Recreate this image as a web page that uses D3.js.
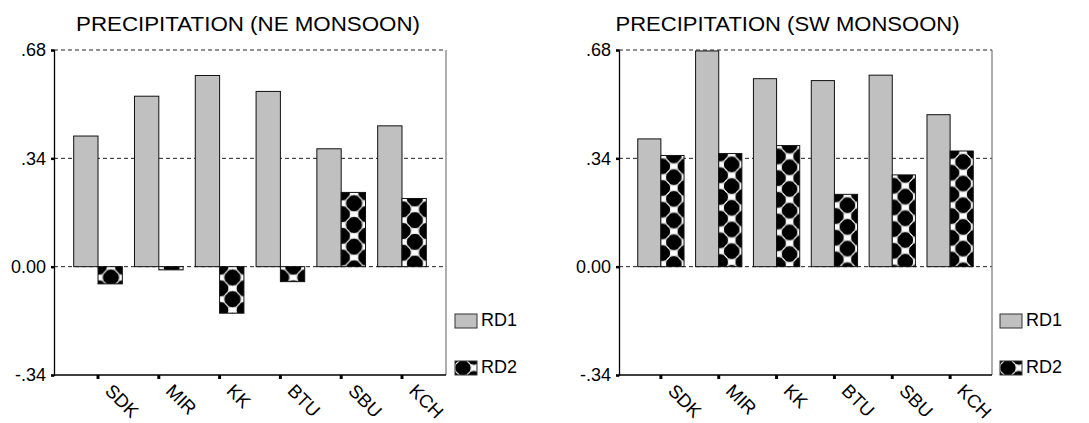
<!DOCTYPE html>
<html>
<head>
<meta charset="utf-8">
<script src="https://cdn.jsdelivr.net/npm/d3@7/dist/d3.min.js"></script>
<style>
  html, body { margin: 0; padding: 0; background: #fff; }
  svg { display: block; }
  text { font-family: "Liberation Sans", Arial, sans-serif; fill: #000; }
</style>
</head>
<body>
<svg id="chart" width="1089" height="423"></svg>
<script>
// ---- data ----
const categories = ["SDK", "MIR", "KK", "BTU", "SBU", "KCH"];
const seriesNames = ["RD1", "RD2"];
const neRD1 = [0.41, 0.535, 0.60, 0.55, 0.37, 0.442];
const neRD2 = [-0.054, -0.010, -0.146, -0.047, 0.233, 0.214];
const swRD1 = [0.401, 0.677, 0.59, 0.584, 0.601, 0.477];
const swRD2 = [0.349, 0.355, 0.38, 0.227, 0.288, 0.363];
const yTickValues = [-0.34, 0, 0.34, 0.68];
const yTickLabels = ["-.34", "0.00", ".34", ".68"];
const titleNE = "PRECIPITATION (NE MONSOON)";
const titleSW = "PRECIPITATION (SW MONSOON)";

const svg = d3.select("#chart");
const defs = svg.append("defs");

function makePattern(pid, px, py, w) {
  const h = 21.7;
  const p = defs.append("pattern").attr("id", pid)
    .attr("patternUnits", "userSpaceOnUse")
    .attr("x", px).attr("y", py).attr("width", w).attr("height", h);
  p.append("rect").attr("width", w).attr("height", h).attr("fill", "#fff");
  const r = Math.sqrt((w / 2) ** 2 + (h / 2) ** 2) / 2 + 0.6;
  [[w / 2, h / 2], [0, 0], [w, 0], [0, h], [w, h]].forEach(([cx, cy]) => {
    p.append("circle").attr("cx", cx).attr("cy", cy).attr("r", r).attr("fill", "#000");
  });
  // thin white ring outlines forming the lattice
  [[w / 2, h / 2], [0, 0], [w, 0], [0, h], [w, h]].forEach(([cx, cy]) => {
    p.append("circle").attr("cx", cx).attr("cy", cy).attr("r", r - 0.2)
      .attr("fill", "none").attr("stroke", "#fff").attr("stroke-width", 0.9);
  });
}

function drawPanel(opt) {
  const { id, left, right, top, bottom, rd1, rd2, title, titleX, legendX } = opt;
  const g = svg.append("g");

  const x = d3.scaleBand().domain(categories).range([left, right])
    .paddingInner(0).paddingOuter(0.224);
  const step = x.step();
  const xs = d3.scaleBand().domain(seriesNames).range([0, step * 0.8]);
  const bw = xs.bandwidth();
  const y = d3.scaleLinear().domain([-0.34, 0.68]).range([bottom, top]);

  // title
  g.append("text").attr("x", titleX).attr("y", 31)
    .attr("text-anchor", "middle").style("font-size", "21px")
    .attr("textLength", 344).attr("lengthAdjust", "spacingAndGlyphs")
    .text(title);

  // dashed gridlines
  g.selectAll("line.grid").data(yTickValues.filter(v => v > -0.34)).enter()
    .append("line").attr("class", "grid")
    .attr("x1", left).attr("x2", right)
    .attr("y1", d => y(d)).attr("y2", d => y(d))
    .attr("stroke", "#222").attr("stroke-width", 1)
    .attr("stroke-dasharray", "4,3");

  // right border
  g.append("line").attr("x1", right).attr("x2", right)
    .attr("y1", top).attr("y2", bottom)
    .attr("stroke", "#777").attr("stroke-width", 1.2);

  const rows = categories.map((c, i) => ({ c, i, v: [rd1[i], rd2[i]] }));

  rows.forEach(r => {
    const bx = x(r.c) + step * 0.1 + xs("RD2");
    makePattern(`${id}-p${r.i}`, bx, y(Math.max(0, r.v[1])), bw);
  });

  const groups = g.selectAll("g.cat").data(rows).enter().append("g")
    .attr("transform", d => `translate(${x(d.c) + step * 0.1},0)`);

  groups.selectAll("rect").data(d => seriesNames.map((s, k) => ({ s, v: d.v[k], i: d.i })))
    .enter().append("rect")
    .attr("x", d => xs(d.s))
    .attr("y", d => y(Math.max(0, d.v)))
    .attr("width", bw)
    .attr("height", d => Math.abs(y(d.v) - y(0)))
    .attr("fill", d => d.s === "RD1" ? "#c0c0c0" : `url(#${id}-p${d.i})`)
    .attr("stroke", "#111").attr("stroke-width", 1);

  // axes
  const yAxis = d3.axisLeft(y).tickValues(yTickValues)
    .tickFormat((d, i) => yTickLabels[i]).tickSize(3).tickPadding(5);
  const ya = g.append("g").attr("transform", `translate(${left},0)`).call(yAxis);
  ya.select(".domain").attr("stroke", "#000").attr("stroke-width", 1.3);
  ya.selectAll(".tick line").attr("stroke", "#000").attr("stroke-width", 2.5);
  ya.selectAll(".tick text").style("font-size", "18px")
    .style("font-family", "Liberation Sans, Arial, sans-serif").attr("fill", "#000");

  const xAxis = d3.axisBottom(x).tickSize(4).tickFormat("");
  const xa = g.append("g").attr("transform", `translate(0,${bottom})`).call(xAxis);
  xa.select(".domain").attr("d", `M${left},0H${right}`).attr("stroke", "#000").attr("stroke-width", 1.3);
  xa.selectAll(".tick line").attr("stroke", "#000").attr("stroke-width", 3);

  g.selectAll("text.cat").data(categories).enter().append("text")
    .attr("class", "cat")
    .attr("transform", d => `translate(${x(d) + step / 2 + 6},${bottom + 17}) rotate(45)`)
    .style("font-size", "18.5px")
    .text(d => d);

  // legend
  const leg = g.append("g");
  const legY = [314, 361];
  seriesNames.forEach((s, k) => {
    if (s === "RD2") makePattern(`${id}-leg`, legendX - 3, legY[k] - 4, 22);
    leg.append("rect").attr("x", legendX).attr("y", legY[k])
      .attr("width", 22).attr("height", 14)
      .attr("fill", s === "RD1" ? "#c0c0c0" : `url(#${id}-leg)`)
      .attr("stroke", "#333").attr("stroke-width", 1);
    leg.append("text").attr("x", legendX + 26).attr("y", legY[k] + 12)
      .style("font-size", "18px").text(s);
  });
}

drawPanel({ id: "ne", left: 54, right: 446, top: 50, bottom: 375,
  rd1: neRD1, rd2: neRD2, title: titleNE, titleX: 248, legendX: 455 });
drawPanel({ id: "sw", left: 619, right: 992, top: 50, bottom: 375,
  rd1: swRD1, rd2: swRD2, title: titleSW, titleX: 787.5, legendX: 1000 });
</script>
</body>
</html>
